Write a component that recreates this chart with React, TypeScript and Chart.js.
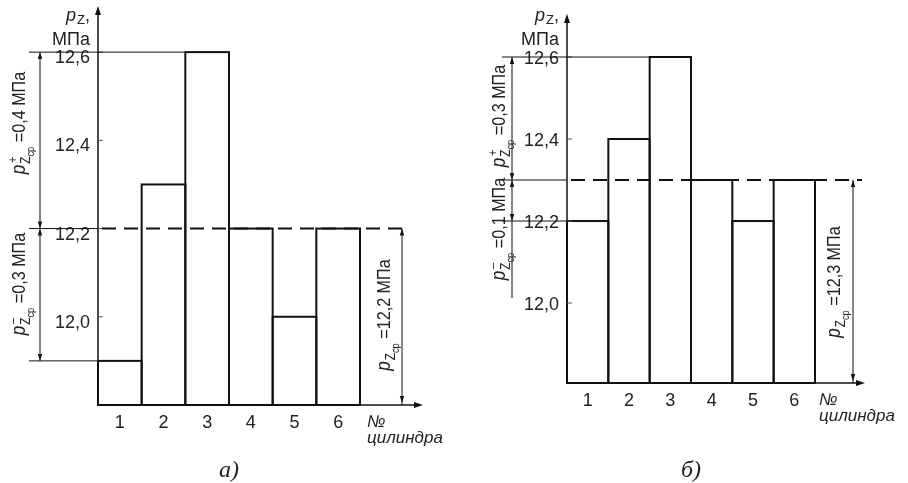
import React, { useEffect, useRef } from 'react';
import { Chart, registerables } from 'chart.js';

Chart.register(...registerables);

// ---- data ----
const cylinders = ['1', '2', '3', '4', '5', '6'];
const pressureA = [11.9, 12.3, 12.6, 12.2, 12.0, 12.2];
const pressureB = [12.2, 12.4, 12.6, 12.3, 12.2, 12.3];
const meanValues = [12.2, 12.3];
const yTickValues = [12.0, 12.2, 12.4, 12.6];
const devPlusLabels = ['0,4', '0,3'];
const devMinusLabels = ['0,3', '0,1'];
const meanLabels = ['12,2', '12,3'];
const captions = ['а)', 'б)'];
const axisTitle = ['p', 'Z', 'МПа'];
const xAxisTitle = ['№', 'цилиндра'];

const INK = '#111';
const TXT = '#222';
const SANS = '"Liberation Sans", Arial, sans-serif';
const SERIF = '"Liberation Serif", "Times New Roman", serif';

const fmt = (v: number) => v.toFixed(1).replace('.', ',');

type Geom = {
  refExt: number; dimOff: number; dimExtra: number; rdimOff: number; dashExt: number;
  xExt: number; noOff: number; labelOffset: number;
  plusT: { base: number; cy: number };
  minusT: { base: number; cy: number };
  meanT: { base: number; cy: number };
};

type Panel = {
  values: number[]; mean: number; yMin: number; yMax: number;
  plus: string; minus: string; meanLabel: string; caption: string;
  pad: { top: number; right: number; bottom: number }; yWidth: number; xHeight: number;
  geom: Geom;
};

const panels: Panel[] = [
  {
    values: pressureA, mean: meanValues[0], yMin: 11.8, yMax: 12.7,
    plus: devPlusLabels[0], minus: devMinusLabels[0], meanLabel: meanLabels[0], caption: captions[0],
    pad: { top: 8, right: 94, bottom: 38 }, yWidth: 98, xHeight: 40,
    geom: {
      refExt: 69, dimOff: 58, dimExtra: 0, rdimOff: 42, dashExt: 50, xExt: 63, noOff: 7, labelOffset: 6,
      plusT: { base: 25, cy: 123 }, minusT: { base: 25, cy: 284 }, meanT: { base: 390, cy: 315 },
    },
  },
  {
    values: pressureB, mean: meanValues[1], yMin: 11.805, yMax: 12.7,
    plus: devPlusLabels[1], minus: devMinusLabels[1], meanLabel: meanLabels[1], caption: captions[1],
    pad: { top: 16, right: 93, bottom: 60 }, yWidth: 113, xHeight: 40,
    geom: {
      refExt: 65, dimOff: 55, dimExtra: 77, rdimOff: 38, dashExt: 47, xExt: 50, noOff: 4, labelOffset: 2,
      plusT: { base: 51, cy: 116 }, minusT: { base: 51, cy: 229 }, meanT: { base: 386, cy: 282 },
    },
  },
];

function line(ctx: CanvasRenderingContext2D, x1: number, y1: number, x2: number, y2: number) {
  ctx.beginPath();
  ctx.moveTo(x1, y1);
  ctx.lineTo(x2, y2);
  ctx.stroke();
}

function arrowHead(ctx: CanvasRenderingContext2D, x: number, y: number, dx: number, dy: number, len: number, hw: number) {
  ctx.beginPath();
  ctx.moveTo(x, y);
  ctx.lineTo(x - dx * len - dy * hw, y - dy * len + dx * hw);
  ctx.lineTo(x - dx * len + dy * hw, y - dy * len - dx * hw);
  ctx.closePath();
  ctx.fill();
}

function drawPLabel(ctx: CanvasRenderingContext2D, baseX: number, cy: number, sup: string, rest: string) {
  const sx = 0.85;
  ctx.save();
  ctx.translate(baseX, cy);
  ctx.rotate(-Math.PI / 2);
  ctx.scale(sx, 1);
  ctx.fillStyle = TXT;
  ctx.textBaseline = 'alphabetic';
  ctx.textAlign = 'left';
  const fP = `italic 20px ${SANS}`;
  const fZ = `14px ${SANS}`;
  const fC = `11px ${SANS}`;
  const fS = `13px ${SANS}`;
  const fR = `19px ${SANS}`;
  ctx.font = fP; const wp = ctx.measureText('p').width + 1;
  ctx.font = fZ; const wz = ctx.measureText('Z').width;
  ctx.font = fC; const wc = ctx.measureText('ср').width;
  ctx.font = fR; const wr = ctx.measureText(' ' + rest).width;
  const total = wp + wz + wc + wr;
  let x = -total / 2;
  ctx.font = fP; ctx.fillText('p', x, 0); x += wp;
  ctx.font = fZ; ctx.fillText('Z', x, 5);
  if (sup) { ctx.font = fS; ctx.fillText(sup, x + 1, -8); }
  x += wz;
  ctx.font = fC; ctx.fillText('ср', x, 9); x += wc;
  ctx.font = fR; ctx.fillText(' ' + rest, x, 0);
  ctx.restore();
}

function makePlugin(p: Panel) {
  return {
    id: 'drawing',
    afterDraw(chart: any) {
      const ctx: CanvasRenderingContext2D = chart.ctx;
      const { left, right, top, bottom } = chart.chartArea;
      const ys = chart.scales.y;
      const g = p.geom;
      const bars = chart.getDatasetMeta(0).data as any[];
      const bar = (i: number) => bars[i].getProps(['x', 'y', 'width', 'base'], true);
      ctx.save();
      ctx.strokeStyle = INK;
      ctx.fillStyle = INK;

      // bar outlines
      ctx.lineWidth = 2;
      bars.forEach((_, i) => {
        const b = bar(i);
        ctx.strokeRect(b.x - b.width / 2, b.y, b.width, b.base - b.y);
      });

      // axes
      ctx.lineWidth = 1.5;
      line(ctx, left, bottom, left, top + 4);
      arrowHead(ctx, left, top - 2, 0, -1, 9, 3);
      line(ctx, left, bottom, right + g.xExt - 4, bottom);
      arrowHead(ctx, right + g.xExt, bottom, 1, 0, 9, 3);

      // small inside ticks
      ctx.lineWidth = 1;
      ctx.strokeStyle = '#555';
      yTickValues.forEach(v => {
        const py = ys.getPixelForValue(v);
        line(ctx, left, py, left + 5, py);
      });
      ctx.strokeStyle = INK;

      const maxV = Math.max(...p.values);
      const minV = Math.min(...p.values);
      const iMax = p.values.indexOf(maxV);
      const iMin = p.values.indexOf(minV);
      const yMax = ys.getPixelForValue(maxV);
      const yMinP = ys.getPixelForValue(minV);
      const yMean = ys.getPixelForValue(p.mean);
      const lx = left - g.refExt;

      // reference lines
      ctx.lineWidth = 1;
      const bM = bar(iMax);
      line(ctx, lx, yMax, bM.x - bM.width / 2, yMax);
      const bm = bar(iMin);
      line(ctx, lx, yMinP, bm.x - bm.width / 2, yMinP);
      line(ctx, lx, yMean, left, yMean);

      // dashed mean
      ctx.lineWidth = 2;
      ctx.setLineDash([14, 8]);
      line(ctx, left + 4, yMean, right + g.dashExt, yMean);
      ctx.setLineDash([]);

      // left dimension line
      ctx.lineWidth = 1;
      const dx = left - g.dimOff;
      line(ctx, dx, yMax, dx, yMinP + g.dimExtra);
      arrowHead(ctx, dx, yMax, 0, -1, 7, 2.2);
      arrowHead(ctx, dx, yMean, 0, 1, 7, 2.2);
      arrowHead(ctx, dx, yMean, 0, -1, 7, 2.2);
      arrowHead(ctx, dx, yMinP, 0, 1, 7, 2.2);

      // right dimension line
      const rx = right + g.rdimOff;
      line(ctx, rx, yMean, rx, bottom);
      arrowHead(ctx, rx, yMean, 0, -1, 7, 2.2);
      arrowHead(ctx, rx, bottom - 2, 0, 1, 7, 2.2);

      // rotated labels
      drawPLabel(ctx, g.plusT.base, g.plusT.cy, '+', `=${p.plus} МПа`);
      drawPLabel(ctx, g.minusT.base, g.minusT.cy, '–', `=${p.minus} МПа`);
      drawPLabel(ctx, g.meanT.base, g.meanT.cy, '', `=${p.meanLabel} МПа`);

      // y axis title
      ctx.fillStyle = TXT;
      ctx.textBaseline = 'alphabetic';
      ctx.textAlign = 'left';
      const rxT = left - 8;
      ctx.font = `italic 18px ${SANS}`; const wp = ctx.measureText(axisTitle[0]).width + 1;
      ctx.font = `13px ${SANS}`; const wz = ctx.measureText(axisTitle[1]).width;
      ctx.font = `18px ${SANS}`; const wcm = ctx.measureText(',').width;
      let tx = rxT - (wp + wz + wcm);
      ctx.font = `italic 18px ${SANS}`; ctx.fillText(axisTitle[0], tx, 21); tx += wp;
      ctx.font = `13px ${SANS}`; ctx.fillText(axisTitle[1], tx, 24); tx += wz;
      ctx.font = `18px ${SANS}`; ctx.fillText(',', tx, 21);
      ctx.textAlign = 'right';
      ctx.fillText(axisTitle[2], rxT, 45);

      // x axis title
      ctx.textAlign = 'left';
      ctx.font = `italic 17px ${SANS}`;
      ctx.fillText(xAxisTitle[0], right + g.noOff, bottom + 22);
      ctx.fillText(xAxisTitle[1], right + g.noOff, bottom + 38);

      // caption
      ctx.textAlign = 'center';
      ctx.font = `italic 24px ${SERIF}`;
      ctx.fillText(p.caption, (left + right) / 2, 477);

      ctx.restore();
    },
  };
}

function PanelChart({ panel, offset }: { panel: Panel; offset: number }) {
  const ref = useRef<HTMLCanvasElement | null>(null);
  useEffect(() => {
    if (!ref.current) return;
    const chart = new Chart(ref.current, {
      type: 'bar',
      data: {
        labels: cylinders,
        datasets: [{
          data: panel.values,
          base: panel.yMin,
          backgroundColor: '#ffffff',
          borderWidth: 0,
          barPercentage: 1,
          categoryPercentage: 1,
        }],
      },
      options: {
        responsive: false,
        animation: false,
        devicePixelRatio: 1,
        layout: { padding: { left: 0, top: panel.pad.top, right: panel.pad.right, bottom: panel.pad.bottom } },
        plugins: { legend: { display: false }, tooltip: { enabled: false } },
        scales: {
          x: {
            type: 'category',
            grid: { display: false, drawTicks: false },
            border: { display: false },
            ticks: { color: TXT, font: { family: SANS, size: 18 }, padding: 7, maxRotation: 0, autoSkip: false },
            afterFit: (s: any) => { s.height = panel.xHeight; s.paddingLeft = 0; s.paddingRight = 0; },
          },
          y: {
            type: 'linear',
            min: panel.yMin,
            max: panel.yMax,
            beginAtZero: false,
            grid: { display: false, drawTicks: false },
            border: { display: false },
            ticks: {
              color: TXT, font: { family: SANS, size: 18 }, padding: 8, labelOffset: panel.geom.labelOffset,
              callback: (v: any) => fmt(Number(v)),
            },
            afterBuildTicks: (s: any) => { s.ticks = yTickValues.map(v => ({ value: v })); },
            afterFit: (s: any) => { s.width = panel.yWidth; s.paddingTop = 0; s.paddingBottom = 0; },
          },
        },
      } as any,
      plugins: [makePlugin(panel)],
    });
    return () => chart.destroy();
  }, [panel]);
  return (
    <div style={{ position: 'absolute', left: offset, top: 0, width: 454, height: 483 }}>
      <canvas ref={ref} width={454} height={483} style={{ display: 'block' }} />
    </div>
  );
}

export default function App() {
  return (
    <div style={{ position: 'fixed', left: 0, top: 0, width: 908, height: 483, background: '#fff', overflow: 'hidden' }}>
      <PanelChart panel={panels[0]} offset={0} />
      <PanelChart panel={panels[1]} offset={454} />
    </div>
  );
}
